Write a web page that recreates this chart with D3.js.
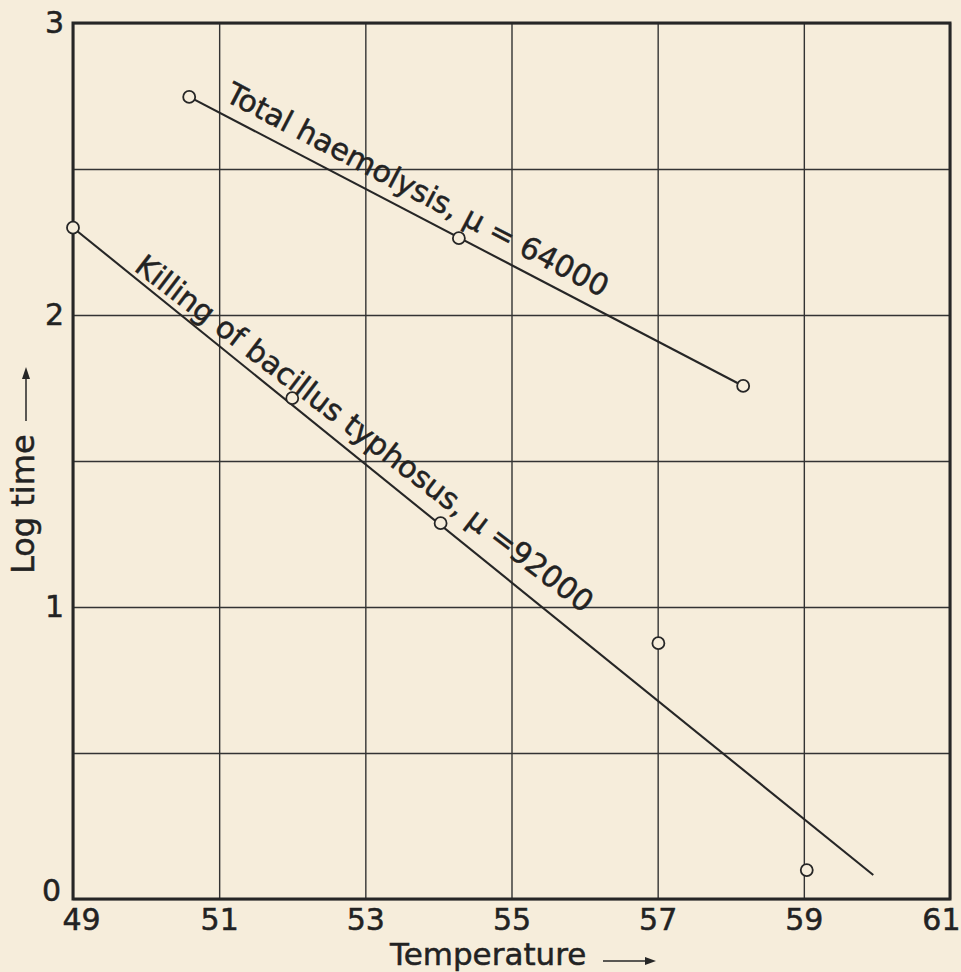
<!DOCTYPE html>
<html>
<head>
<meta charset="utf-8">
<script src="https://cdn.jsdelivr.net/npm/d3@7"></script>
<style>
  body { margin: 0; background: #f6eddb; }
  svg { display: block; }
  text { font-family: "DejaVu Sans", sans-serif; fill: #222; stroke: #222; stroke-width: 0.5px; }
  .tick text { font-size: 30px; }
</style>
</head>
<body>
<div id="chart"></div>
<script>
// Temperature ticks and log-time ticks
const xTicks = [49, 51, 53, 55, 57, 59, 61];
const yTicks = [0, 0.5, 1, 1.5, 2, 2.5, 3];

// Total haemolysis, mu = 64000
const haemoTemp = [50.59, 54.28, 58.17];
const haemoLog = [2.747, 2.263, 1.757];

// Killing of bacillus typhosus, mu = 92000
const killTemp = [49.0, 52.0, 54.03, 57.01, 59.04];
const killLog = [2.299, 1.715, 1.287, 0.876, 0.099];

// drawn straight lines (end points)
const haemoFitTemp = [50.59, 58.17];
const haemoFitLog = [2.747, 1.757];
const killFitTemp = [49.0, 59.95];
const killFitLog = [2.299, 0.082];

const W = 961, H = 972;
const margin = { top: 23, right: 11, bottom: 73, left: 73 };
const width = W - margin.left - margin.right;
const height = H - margin.top - margin.bottom;
const ink = '#262626';
const paper = '#f6eddb';

const svg = d3.select('#chart').append('svg')
    .attr('width', W)
    .attr('height', H)
    .style('background', paper);

const g = svg.append('g').attr('transform', `translate(${margin.left},${margin.top})`);

const x = d3.scaleLinear().domain([49, 61]).range([0, width]);
const y = d3.scaleLinear().domain([0, 3]).range([height, 0]);

// grid + tick labels
const xAxis = g.append('g')
    .attr('transform', `translate(0,${height})`)
    .call(d3.axisBottom(x).tickValues(xTicks).tickSize(-height).tickPadding(10).tickFormat(d3.format('d')));
xAxis.select('.domain').remove();
xAxis.selectAll('.tick line').attr('stroke', '#333').attr('stroke-width', 1.4);

const yAxis = g.append('g')
    .call(d3.axisLeft(y).tickValues(yTicks).tickSize(-width).tickPadding(9)
        .tickFormat(d => Number.isInteger(d) ? d : ''));
yAxis.select('.domain').remove();
yAxis.selectAll('.tick line').attr('stroke', '#333').attr('stroke-width', 1.4);
// the "0" sits in the corner, a bit up
yAxis.selectAll('.tick text').filter(d => d === 0).attr('x', -12).attr('dy', '0.05em');
xAxis.selectAll('.tick text').filter(d => d === 49).attr('x', 8);
// last label pushed in so it stays on the page
xAxis.selectAll('.tick text').filter(d => d === 61).attr('text-anchor', 'end').attr('x', 10);

// frame
g.append('rect')
    .attr('width', width)
    .attr('height', height)
    .attr('fill', 'none')
    .attr('stroke', ink)
    .attr('stroke-width', 3);

// lines
function drawLine(temps, logs) {
    const pts = temps.map((t, i) => [x(t), y(logs[i])]);
    g.append('path')
        .attr('d', d3.line()(pts))
        .attr('fill', 'none')
        .attr('stroke', ink)
        .attr('stroke-width', 2.1);
}
drawLine(haemoFitTemp, haemoFitLog);
drawLine(killFitTemp, killFitLog);

// open circles
function drawPoints(temps, logs) {
    g.selectAll(null)
        .data(temps.map((t, i) => ({ t: t, v: logs[i] })))
        .enter().append('circle')
        .attr('cx', d => x(d.t))
        .attr('cy', d => y(d.v))
        .attr('r', 6)
        .attr('fill', paper)
        .attr('stroke', ink)
        .attr('stroke-width', 1.8);
}
drawPoints(haemoTemp, haemoLog);
drawPoints(killTemp, killLog);

// labels running along the lines
function lineLabel(text, temps, logs, atTemp, offset, tilt) {
    const x0 = x(temps[0]), y0 = y(logs[0]);
    const x1 = x(temps[1]), y1 = y(logs[1]);
    const angle = Math.atan2(y1 - y0, x1 - x0) * 180 / Math.PI + tilt;
    const ax = x(atTemp);
    const ay = y0 + (ax - x0) * (y1 - y0) / (x1 - x0);
    g.append('text')
        .attr('transform', `translate(${ax},${ay}) rotate(${angle})`)
        .attr('y', -offset)
        .style('font-size', '30px')
        .text(text);
}
lineLabel('Total haemolysis, \u03bc = 64000', haemoFitTemp, haemoFitLog, 50.98, 13, 0);
lineLabel('Killing of bacillus typhosus, \u03bc =92000', killFitTemp, killFitLog, 49.78, 5, -1.6);

// axis titles with arrows
svg.append('text')
    .attr('x', 390)
    .attr('y', 965)
    .style('font-size', '31px')
    .text('Temperature');

svg.append('line')
    .attr('x1', 603).attr('x2', 648)
    .attr('y1', 961).attr('y2', 961)
    .attr('stroke', ink).attr('stroke-width', 1.5);
svg.append('path')
    .attr('d', 'M645,957 L656,961 L645,965 Z')
    .attr('fill', ink);

svg.append('text')
    .attr('transform', 'translate(34,574) rotate(-90)')
    .style('font-size', '32px')
    .text('Log time');

svg.append('line')
    .attr('x1', 26).attr('x2', 26)
    .attr('y1', 421).attr('y2', 376)
    .attr('stroke', ink).attr('stroke-width', 1.5);
svg.append('path')
    .attr('d', 'M22,379 L26,367 L30,379 Z')
    .attr('fill', ink);
</script>
</body>
</html>
